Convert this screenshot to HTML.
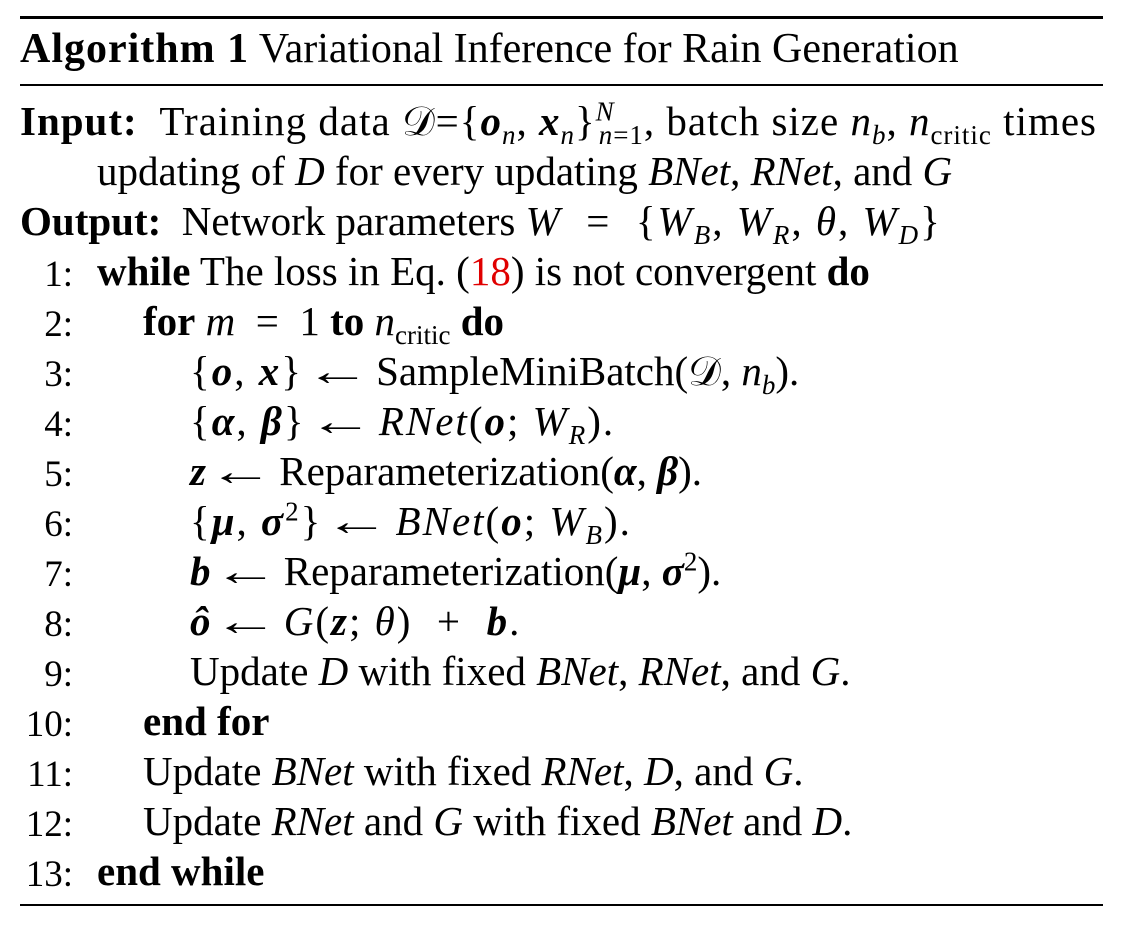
<!DOCTYPE html>
<html><head><meta charset="utf-8">
<style>
html,body{margin:0;padding:0;background:#fff;}
body{width:1133px;height:934px;position:relative;overflow:hidden;font-family:"Liberation Serif",serif;color:#000;}
.r{position:absolute;left:20px;width:1083px;background:#000;}
.l{position:absolute;font-size:41px;line-height:41px;white-space:nowrap;}
.n{position:absolute;font-size:37px;line-height:41px;width:73px;left:0;text-align:right;margin-top:3px;}
i{font-style:italic;}
.v{font-style:italic;font-weight:bold;}
sub,sup{font-size:27px;line-height:0;}
.red{color:#e00000;}
.a{display:inline-block;margin:0 8px 0 14px;transform:scaleX(1.6);}
.m{letter-spacing:2px;}
</style></head><body>
<div class="r" style="top:16px;height:3px"></div>
<div class="r" style="top:84px;height:2px"></div>
<div class="r" style="top:904px;height:2px"></div>

<div class="l" style="left:20px;top:28px;font-size:42px;line-height:42px"><b style="letter-spacing:1px">Algorithm 1</b> Variational Inference for Rain Generation</div>

<div class="l" style="left:20px;top:101px;letter-spacing:1px"><b>Input:</b>&nbsp; Training data 𝒟={<span class="v">o</span><sub><i>n</i></sub>,&nbsp;<span class="v">x</span><sub><i>n</i></sub>}<sup><i>N</i></sup><sub style="margin-left:-16px"><i>n</i>=1</sub>, batch size <i>n</i><sub><i>b</i></sub>, <i>n</i><sub>critic</sub> times</div>
<div class="l" style="left:97px;top:151px">updating of <i>D</i> for every updating <i>BNet</i>, <i>RNet</i>, and <i>G</i></div>
<div class="l" style="left:20px;top:201px"><b>Output:</b>&nbsp; Network parameters <span class="m"><i>W</i> &nbsp;=&nbsp; {<i>W</i><sub><i>B</i></sub>,&nbsp;<i>W</i><sub><i>R</i></sub>,&nbsp;<i>θ</i>,&nbsp;<i>W</i><sub><i>D</i></sub>}</span></div>

<div class="n" style="top:251px">1:</div>
<div class="l" style="left:97px;top:251px"><b>while</b> The loss in Eq. (<span class="red">18</span>) is not convergent <b>do</b></div>
<div class="n" style="top:301px">2:</div>
<div class="l" style="left:143px;top:301px"><b>for</b> <i>m</i> &nbsp;=&nbsp; 1 <b>to</b> <i>n</i><sub>critic</sub> <b>do</b></div>
<div class="n" style="top:351px">3:</div>
<div class="l" style="left:190px;top:351px"><span class="m">{<span class="v">o</span>, <span class="v">x</span>}</span><span class="a">←</span> SampleMiniBatch(𝒟, <i>n</i><sub><i>b</i></sub>).</div>
<div class="n" style="top:401px">4:</div>
<div class="l" style="left:190px;top:401px"><span class="m">{<span class="v">α</span>, <span class="v">β</span>}</span><span class="a">←</span> <span class="m"><i>RNet</i>(<span class="v">o</span>; <i>W</i><sub><i>R</i></sub>).</span></div>
<div class="n" style="top:451px">5:</div>
<div class="l" style="left:190px;top:451px"><span class="v">z</span><span class="a">←</span> Reparameterization(<span class="v">α</span>,&nbsp;<span class="v">β</span>).</div>
<div class="n" style="top:501px">6:</div>
<div class="l" style="left:190px;top:501px"><span class="m">{<span class="v">μ</span>, <span class="v">σ</span><sup>2</sup>}</span><span class="a">←</span> <span class="m"><i>BNet</i>(<span class="v">o</span>; <i>W</i><sub><i>B</i></sub>).</span></div>
<div class="n" style="top:551px">7:</div>
<div class="l" style="left:190px;top:551px"><span class="v">b</span><span class="a">←</span> Reparameterization(<span class="v">μ</span>,&nbsp;<span class="v">σ</span><sup>2</sup>).</div>
<div class="n" style="top:601px">8:</div>
<div class="l" style="left:190px;top:601px"><span class="v">ô</span><span class="a">←</span> <span class="m"><i>G</i>(<span class="v">z</span>; <i>θ</i>) &nbsp;+&nbsp; <span class="v">b</span>.</span></div>
<div class="n" style="top:651px">9:</div>
<div class="l" style="left:190px;top:651px">Update <i>D</i> with fixed <i>BNet</i>, <i>RNet</i>, and <i>G</i>.</div>
<div class="n" style="top:701px">10:</div>
<div class="l" style="left:143px;top:701px"><b>end for</b></div>
<div class="n" style="top:751px">11:</div>
<div class="l" style="left:143px;top:751px">Update <i>BNet</i> with fixed <i>RNet</i>, <i>D</i>, and <i>G</i>.</div>
<div class="n" style="top:801px">12:</div>
<div class="l" style="left:143px;top:801px">Update <i>RNet</i> and <i>G</i> with fixed <i>BNet</i> and <i>D</i>.</div>
<div class="n" style="top:851px">13:</div>
<div class="l" style="left:97px;top:851px"><b>end while</b></div>
</body></html>
